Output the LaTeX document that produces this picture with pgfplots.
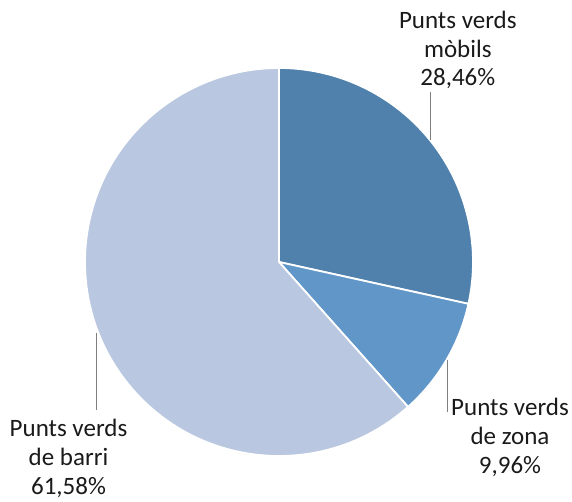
\documentclass[border=0pt]{standalone}
\usepackage{pgfplots}
\usepackage{pgfplotstable}
\pgfplotsset{compat=1.18}
\usepackage{fontspec}
\setmainfont{Carlito}
\definecolor{cMob}{HTML}{4F81AC}
\definecolor{cZon}{HTML}{6196C8}
\definecolor{cBar}{HTML}{B9C8E0}
\definecolor{cTxt}{HTML}{1A1A1A}
\definecolor{cLead}{HTML}{7F7F7F}
\pgfplotstableread[col sep=comma]{
label,value
mobils,28.46
zona,9.96
barri,61.58
}\piedata
\pgfplotstablegetelem{0}{value}\of\piedata \let\vA\pgfplotsretval
\pgfplotstablegetelem{1}{value}\of\piedata \let\vB\pgfplotsretval
\pgfplotstablegetelem{2}{value}\of\piedata \let\vC\pgfplotsretval
\pgfmathsetmacro{\aA}{90}
\pgfmathsetmacro{\aB}{90-3.6*\vA}
\pgfmathsetmacro{\aC}{\aB-3.6*\vB}
\pgfmathsetmacro{\aD}{\aC-3.6*\vC}
\begin{document}
\begin{tikzpicture}
\begin{axis}[hide axis, scale only axis, x=1pt, y=1pt,
  xmin=0, xmax=572, ymin=0, ymax=502, clip=false]
\path (axis cs:0,0) rectangle (axis cs:572,502);
\fill[cMob, draw=white, line width=1.8pt, line join=round] (axis cs:279,240) -- ++(\aA:194pt) arc[start angle=\aA, end angle=\aB, radius=194pt] -- cycle;
\fill[cZon, draw=white, line width=1.8pt, line join=round] (axis cs:279,240) -- ++(\aB:194pt) arc[start angle=\aB, end angle=\aC, radius=194pt] -- cycle;
\fill[cBar, draw=white, line width=1.8pt, line join=round] (axis cs:279,240) -- ++(\aC:194pt) arc[start angle=\aC, end angle=\aD, radius=194pt] -- cycle;
% leader lines
\draw[cLead, line width=1pt] (axis cs:430,410) -- (axis cs:430,362);
\draw[cLead, line width=1pt] (axis cs:447.7,142) -- (axis cs:447.7,90);
\draw[cLead, line width=1pt] (axis cs:96.7,169) -- (axis cs:96.7,92);
% labels
\begin{scope}[every node/.style={inner sep=0pt, anchor=base, text=cTxt, font=\fontsize{25}{29}\selectfont}]
\node at (axis cs:457.8,473) {Punts verds};
\node at (axis cs:457.8,444.5) {mòbils};
\node at (axis cs:457.8,416) {28,46\%};
\node at (axis cs:510,86) {Punts verds};
\node at (axis cs:510,57) {de zona};
\node at (axis cs:510,28) {9,96\%};
\node at (axis cs:68.5,65) {Punts verds};
\node at (axis cs:68.5,36) {de barri};
\node at (axis cs:68.5,7) {61,58\%};
\end{scope}
\end{axis}
\end{tikzpicture}
\end{document}
